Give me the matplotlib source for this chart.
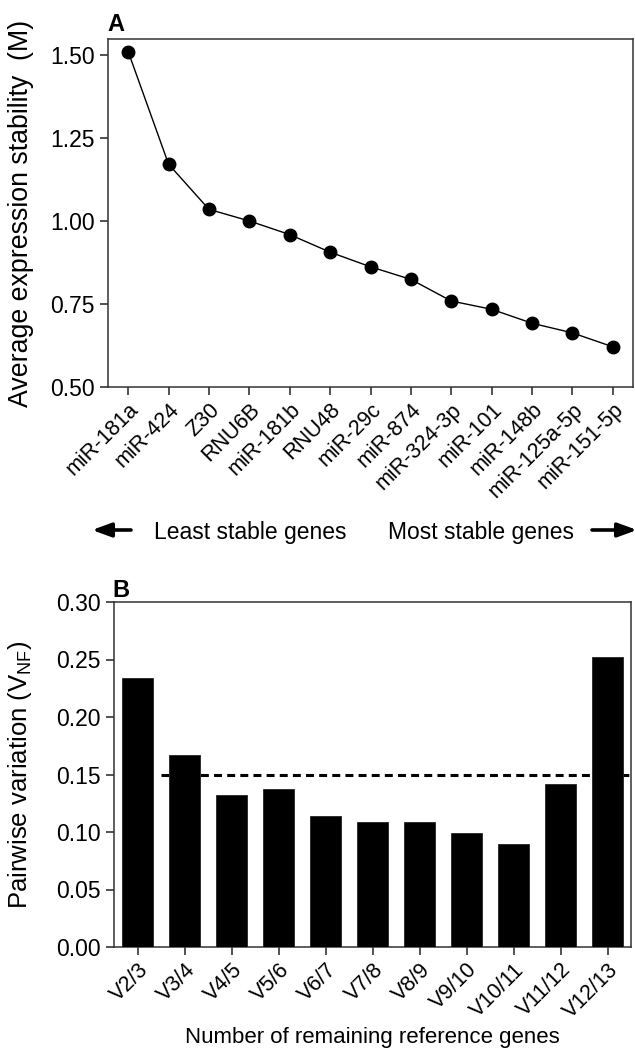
import matplotlib
matplotlib.use("Agg")
import matplotlib.pyplot as plt
from matplotlib.patches import FancyArrowPatch

plt.rcParams['font.family'] = ['Liberation Sans', 'DejaVu Sans']
plt.rcParams['mathtext.fontset'] = 'custom'
plt.rcParams['mathtext.rm'] = 'Liberation Sans'
plt.rcParams['mathtext.it'] = 'Liberation Sans:italic'
plt.rcParams['mathtext.bf'] = 'Liberation Sans:bold'

# panel A: geNorm M values
genes = ['miR-181a', 'miR-424', 'Z30', 'RNU6B', 'miR-181b', 'RNU48', 'miR-29c',
         'miR-874', 'miR-324-3p', 'miR-101', 'miR-148b', 'miR-125a-5p', 'miR-151-5p']
m_values = [1.51, 1.171, 1.035, 1.000, 0.959, 0.906, 0.862, 0.824, 0.759, 0.734,
            0.692, 0.663, 0.621]

# panel B: pairwise variation
pairs = ['V2/3', 'V3/4', 'V4/5', 'V5/6', 'V6/7', 'V7/8', 'V8/9', 'V9/10',
         'V10/11', 'V11/12', 'V12/13']
v_values = [0.234, 0.167, 0.132, 0.137, 0.114, 0.109, 0.109, 0.099, 0.090,
            0.142, 0.252]
cutoff = 0.15

fig = plt.figure(figsize=(6.35, 10.56), dpi=100)
W, H = 635, 1056

def box(l, t, r, b):
    return [l / W, 1 - b / H, (r - l) / W, (b - t) / H]

spine_c = '#333333'

def style(ax):
    for s in ax.spines.values():
        s.set_linewidth(1.1)
        s.set_color(spine_c)
    ax.tick_params(direction='out', length=5.8, width=1.2, color=spine_c,
                   labelsize=16.5, pad=4)
    ax.tick_params(axis='x', labelsize=15.5, pad=3)

# ---- A
ax1 = fig.add_axes(box(108, 39, 633, 387))
x1 = list(range(len(genes)))
ax1.plot(x1, m_values, color='black', lw=1.0, marker='o', markersize=9,
         markerfacecolor='black', markeredgecolor='black', clip_on=False, zorder=3)
ax1.set_xlim(-0.5, len(genes) - 0.5)
ax1.set_ylim(0.5, 1.548)
ax1.set_yticks([0.50, 0.75, 1.00, 1.25, 1.50])
ax1.set_yticklabels(['0.50', '0.75', '1.00', '1.25', '1.50'])
ax1.set_xticks(x1)
ax1.set_xticklabels(genes, rotation=45, ha='right', rotation_mode='anchor')
style(ax1)
ax1.set_ylabel('Average expression stability  (M)', fontsize=19.3)
ax1.yaxis.set_label_coords(-0.141, 0.5)

fig.text(107 / W, 1 - 31 / H, 'A', fontsize=17, fontweight='bold', ha='left', va='baseline')

# arrows row
yrow = 1 - 532 / H
yarr = 1 - 530 / H
fig.text(154 / W, yrow, 'Least stable genes', fontsize=16.5, ha='left', va='center')
fig.text(388 / W, yrow, 'Most stable genes', fontsize=16.5, ha='left', va='center')
arrow_kw = dict(arrowstyle='-|>,head_length=1.15,head_width=0.42', mutation_scale=10,
                color='black', lw=2.6, shrinkA=0, shrinkB=0)
fig.add_artist(FancyArrowPatch((131 / W, yarr), (92 / W, yarr),
                               transform=fig.transFigure, **arrow_kw))
fig.add_artist(FancyArrowPatch((592 / W, yarr), (637 / W, yarr),
                               transform=fig.transFigure, **arrow_kw))

# ---- B
ax2 = fig.add_axes(box(114, 602, 631, 947))
x2 = list(range(len(pairs)))
ax2.bar(x2, v_values, width=0.68, color='black', edgecolor='#222222', lw=0.6, zorder=3)
ax2.plot([0.5, len(pairs) - 0.5], [cutoff, cutoff], color='black', lw=2.2,
         linestyle=(0, (2.6, 1.7)), zorder=2)
ax2.set_xlim(-0.5, len(pairs) - 0.5)
ax2.set_ylim(0, 0.30)
ax2.set_yticks([0.00, 0.05, 0.10, 0.15, 0.20, 0.25, 0.30])
ax2.set_yticklabels(['0.00', '0.05', '0.10', '0.15', '0.20', '0.25', '0.30'])
ax2.set_xticks(x2)
ax2.set_xticklabels(pairs, rotation=45, ha='right', rotation_mode='anchor')
style(ax2)
ax2.set_ylabel(r'Pairwise variation (V$_{\mathrm{NF}}$)', fontsize=18.5)
ax2.yaxis.set_label_coords(-0.155, 0.5)
ax2.set_xlabel('Number of remaining reference genes', fontsize=16)
ax2.xaxis.set_label_coords(0.5, -0.232)

fig.text(112 / W, 1 - 597 / H, 'B', fontsize=17, fontweight='bold', ha='left', va='baseline')

fig.savefig('out.png', dpi=100)
